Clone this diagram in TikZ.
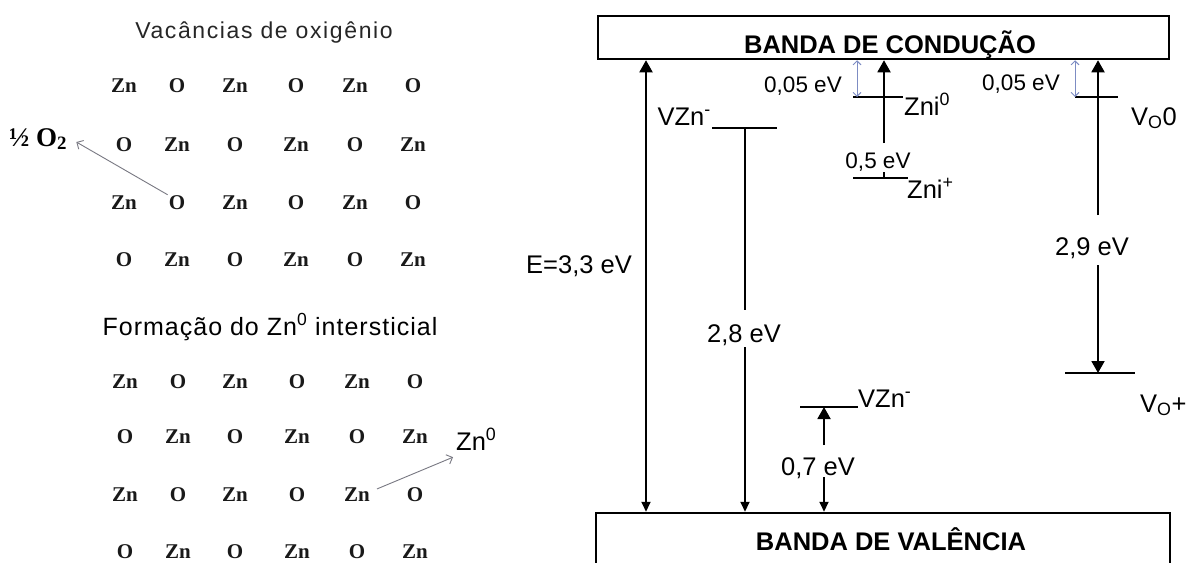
\documentclass[tikz,border=0pt]{standalone}
\usepackage{fontspec}
\setmainfont{Liberation Sans}
\newfontfamily\serifbf{Liberation Serif}
\newfontfamily\trackA[LetterSpace=7]{Liberation Sans}
\newfontfamily\trackB[LetterSpace=4]{Liberation Sans}
\usetikzlibrary{arrows.meta}
\newcommand\myfs[1]{\fontsize{#1}{#1}\selectfont}
\definecolor{bluc}{RGB}{125,140,195}
\definecolor{arrg}{RGB}{120,120,130}
\begin{document}
\begin{tikzpicture}[x=1pt,y=-1pt,
  BigT/.tip={Triangle[width=13pt,length=12pt]},
  SmT/.tip={Triangle[width=9pt,length=10pt]},
  BluT/.tip={Straight Barb[width=8pt,length=4pt]},
  GrT/.tip={Straight Barb[width=10pt,length=5pt]},
  lbl/.style={font=\myfs{25.5}, inner sep=0pt},
  slbl/.style={font=\myfs{22.5}, inner sep=0pt},
  atom/.style={font=\serifbf\bfseries\myfs{21}, text=black!90, inner sep=1pt},
  band/.style={draw, line width=2.5pt, inner sep=0pt},
  bandtxt/.style={font=\bfseries\myfs{25.5}, anchor=base, inner sep=0pt},
  lvl/.style={line width=1.9pt},
  vl/.style={line width=1.9pt},
  blu/.style={draw=bluc, line width=0.9pt, BluT-BluT},
  garrow/.style={draw=arrg, line width=0.9pt, -GrT},
]
\useasboundingbox (0,0) rectangle (1196,562);
\fill[white] (0,0) rectangle (1196,562);
\clip (0,0) rectangle (1196,562);

% ---------------- left panel ----------------
\node[font=\trackA\myfs{23}, text=black!85, anchor=base] (t1) at (264,38) {Vacâncias de oxigênio};
\foreach \y [count=\r] in {86,145,203,260} {
  \foreach \x [count=\c] in {124,177,235,296,355,413} {
    \pgfmathtruncatemacro\s{\r+\c}
    \node[atom] (p\r\c) at (\x,\y) {\ifodd\s O\else Zn\fi};
  }
}
\node[font=\serifbf\bfseries\myfs{27}, anchor=base west, inner sep=1pt] (half) at (8,146) {½ O\textsubscript{2}};
\draw[garrow] (p32.north west) -- ([shift={(8,3)}]half.east);

\node[font=\trackB\myfs{25}, anchor=base] (t2) at (270,335) {Formação do Zn\textsuperscript{0} intersticial};
\foreach \y [count=\r] in {382,437,495,552} {
  \foreach \x [count=\c] in {125,178,235,297,357,415} {
    \pgfmathtruncatemacro\s{\r+\c}
    \node[atom] (q\r\c) at (\x,\y) {\ifodd\s O\else Zn\fi};
  }
}
\node[lbl, anchor=base west, inner sep=1pt] (zn0) at (455,450) {Zn\textsuperscript{0}};
\draw[garrow] ([shift={(6,2)}]q35.north east) -- ([shift={(-2,6)}]zn0.south west);

% ---------------- right panel ----------------
\node[band, minimum width=571pt, minimum height=43pt] (cb) at (883.5,37.5) {};
\node[bandtxt] (cbt) at (890,53) {BANDA DE CONDUÇÃO};
\node[band, minimum width=574pt, minimum height=70pt] (vb) at (883,548) {};
\node[bandtxt] (vbt) at (891,550) {BANDA DE VALÊNCIA};

% band gap arrow
\coordinate (ex) at (646,0);
\draw[vl, SmT-BigT] (ex |- vb.north) -- (ex |- cb.south);
\node[lbl, anchor=base] (elbl) at (579,273) {E=3,3 eV};

% VZn- upper level and 2,8 eV transition
\coordinate (vza) at (712,128);
\coordinate (vzb) at (777,128);
\draw[lvl] (vza) -- (vzb);
\node[lbl, anchor=base east] (vzl) at (711,125) {VZn\textsuperscript{-}};
\coordinate (v28) at (745,128);
\coordinate (g28t) at (745,310);
\coordinate (g28b) at (745,347);
\draw[vl] (v28) -- (g28t);
\draw[vl, -SmT] (g28b) -- (g28b |- vb.north);
\node[lbl, anchor=base] (l28) at (744,342) {2,8 eV};

% Zni levels
\coordinate (zi0a) at (853,97);
\coordinate (zi0b) at (903,97);
\draw[lvl] (zi0a) -- (zi0b);
\node[lbl, anchor=base west] (zi0l) at (904,115) {Zni\textsuperscript{0}};
\coordinate (bl1) at (857,97);
\draw[blu] (bl1 |- cb.south) -- (bl1);
\node[slbl, anchor=base] (l005a) at (803,92) {0,05 eV};

\coordinate (zipa) at (853,178);
\coordinate (zipb) at (908,178);
\draw[lvl] (zipa) -- (zipb);
\node[lbl, anchor=base west] (zipl) at (907,198) {Zni\textsuperscript{+}};
\coordinate (zx) at (884,178);
\coordinate (g05t) at (884,143);
\coordinate (g05b) at (884,172);
\draw[vl] (zx) -- (g05b);
\draw[vl, -BigT] (g05t) -- (g05t |- cb.south);
\node[slbl, anchor=base] (l05) at (878,168) {0,5 eV};

% VO levels
\coordinate (voa) at (1075,97);
\coordinate (vob) at (1118,97);
\draw[lvl] (voa) -- (vob);
\node[lbl, anchor=base west] (vo0l) at (1131,125) {V\textsubscript{O}0};
\draw[blu] (voa |- cb.south) -- (voa);
\node[slbl, anchor=base] (l005b) at (1021,90) {0,05 eV};

\coordinate (vpa) at (1065,373);
\coordinate (vpb) at (1135,373);
\draw[lvl] (vpa) -- (vpb);
\node[lbl, anchor=base west] (vopl) at (1140,412) {V\textsubscript{O}+};
\coordinate (vx) at (1098,373);
\coordinate (g29t) at (1098,215);
\coordinate (g29b) at (1098,265);
\draw[vl, -BigT] (g29t) -- (g29t |- cb.south);
\draw[vl, -BigT] (g29b) -- (vx);
\node[lbl, anchor=base] (l29) at (1092,255) {2,9 eV};

% VZn- lower level and 0,7 eV
\coordinate (vla) at (800,407);
\coordinate (vlb) at (858,407);
\draw[lvl] (vla) -- (vlb);
\node[lbl, anchor=base west] (vll) at (858,407) {VZn\textsuperscript{-}};
\coordinate (v07) at (824,407);
\coordinate (g07t) at (824,445);
\coordinate (g07b) at (824,477);
\draw[vl, -BigT] (g07t) -- (v07);
\draw[vl, -SmT] (g07b) -- (g07b |- vb.north);
\node[lbl, anchor=base] (l07) at (818,475) {0,7 eV};
\end{tikzpicture}
\end{document}
